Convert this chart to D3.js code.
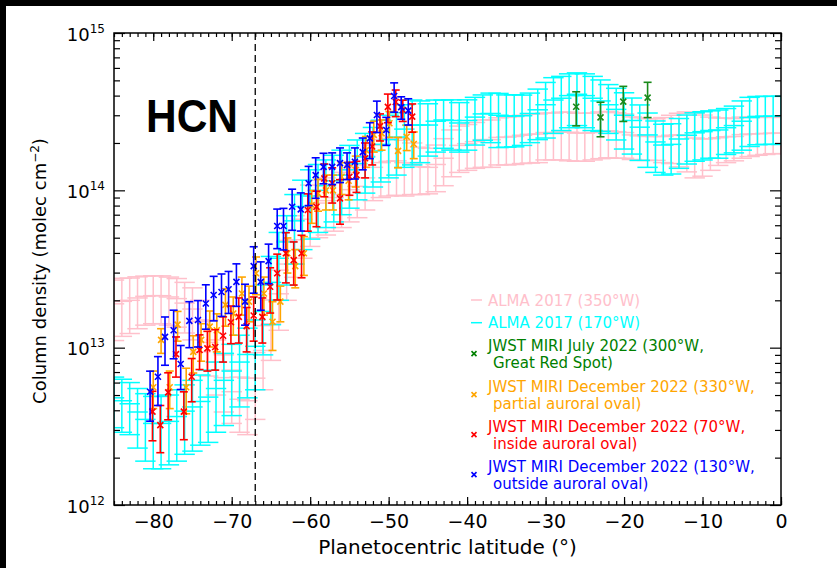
<!DOCTYPE html>
<html>
<head>
<meta charset="utf-8">
<script src="https://cdn.jsdelivr.net/npm/d3@7"></script>
<style>
  body { margin: 0; background: #fff; }
  svg { display: block; font-family: "DejaVu Sans", sans-serif; }
</style>
</head>
<body>
<svg id="chart" width="837" height="568"></svg>
<script>
// ALMA 2017 latitude grid (deg)
const almaLat = [-85,-84,-83,-82,-81,-80,-79,-78,-77,-76,-75,-74,-73,-72,-71,-70,-69,-68,-67,-66,
  -65,-64,-63,-62,-61,-60,-59,-58,-57,-56,-55,-54,-53,-52,-51,-50,-49,-48,-47,-46,
  -45,-44,-43,-42,-41,-40,-39,-38,-37,-36,-35,-34,-33,-32,-31,-30,-29,-28,-27,-26,
  -25,-24,-23,-22,-21,-20,-19,-18,-17,-16,-15,-14,-13,-12,-11,-10,-9,-8,-7,-6,
  -5,-4,-3,-2,-1,0];

// ALMA 2017 (350°W)
const pinkVal = [1.9e13,1.97e13,2.0e13,2.07e13,2.12e13,2.14e13,2.14e13,2.1e13,2.05e13,1.92e13,
  1.76e13,1.47e13,1.08e13,8.1e12,6.45e12,5.25e12,4.7e12,4.6e12,6.4e12,9.6e12,
  1.42e13,2.2e13,3.4e13,4.85e13,6.55e13,7.6e13,8.3e13,8.6e13,9.0e13,9.4e13,
  1.01e14,1.06e14,1.2e14,1.4e14,1.5e14,1.53e14,1.54e14,1.5e14,1.47e14,1.41e14,
  1.4e14,1.46e14,1.6e14,1.82e14,1.93e14,1.98e14,2.04e14,2.1e14,2.1e14,2.17e14,
  2.18e14,2.2e14,2.24e14,2.27e14,2.28e14,2.33e14,2.33e14,2.35e14,2.34e14,2.31e14,
  2.31e14,2.33e14,2.37e14,2.39e14,2.36e14,2.33e14,2.25e14,2.22e14,2.2e14,2.2e14,
  2.2e14,2.24e14,2.25e14,2.23e14,2.15e14,2.12e14,2.13e14,2.16e14,2.19e14,2.2e14,
  2.26e14,2.28e14,2.29e14,2.3e14,2.31e14,2.31e14];
const pinkErr = [7.9e12,7.9e12,7.7e12,7.5e12,7.3e12,7.2e12,7.2e12,7.1e12,7.0e12,6.8e12,
  6.4e12,5.3e12,4.2e12,3.1e12,2.55e12,1.95e12,1.8e12,1.8e12,2.9e12,4.2e12,
  5.9e12,9.1e12,1.4e13,2.05e13,2.85e13,3.2e13,3.3e13,3.4e13,3.5e13,3.6e13,
  3.8e13,3.9e13,4.5e13,5.4e13,6.0e13,6.1e13,6.1e13,5.8e13,5.3e13,4.7e13,
  4.5e13,4.8e13,5.3e13,6.0e13,6.3e13,6.4e13,6.6e13,7.0e13,7.0e13,7.2e13,
  7.3e13,7.4e13,7.6e13,7.8e13,7.8e13,7.7e13,7.7e13,7.9e13,8.0e13,7.8e13,
  7.8e13,7.7e13,7.8e13,7.8e13,7.6e13,7.3e13,6.8e13,6.7e13,6.5e13,6.5e13,
  7.0e13,7.6e13,8.4e13,9.2e13,9.5e13,8.9e13,7.9e13,7.2e13,6.9e13,6.6e13,
  6.6e13,6.4e13,6.2e13,6.1e13,6.0e13,6.0e13];

// ALMA 2017 (170°W)
const cyanVal = [4.8e12,4.6e12,4.4e12,3.9e12,3.5e12,3.3e12,3.3e12,3.4e12,3.65e12,3.95e12,
  4.2e12,4.55e12,4.85e12,5.5e12,6.2e12,7.1e12,8.1e12,9.05e12,1.02e13,1.7e13,
  2.6e13,3.7e13,4.7e13,6.4e13,7.9e13,9.2e13,1.0e14,1.07e14,1.15e14,1.25e14,
  1.35e14,1.48e14,1.63e14,1.78e14,1.96e14,2.1e14,2.18e14,2.45e14,2.6e14,2.6e14,
  2.6e14,2.75e14,2.8e14,2.78e14,2.68e14,2.78e14,2.92e14,3.06e14,3.08e14,3.0e14,
  2.96e14,2.97e14,2.98e14,3.08e14,3.25e14,3.5e14,3.75e14,3.85e14,4.0e14,4.08e14,
  4.0e14,3.85e14,3.7e14,3.5e14,3.27e14,3.0e14,2.78e14,2.52e14,2.25e14,2.03e14,
  1.94e14,1.96e14,2.12e14,2.24e14,2.32e14,2.36e14,2.4e14,2.42e14,2.5e14,2.58e14,
  2.75e14,2.9e14,2.95e14,2.96e14,2.96e14,2.96e14];
const cyanErr = [1.7e12,1.7e12,1.6e12,1.6e12,1.6e12,1.6e12,1.6e12,1.6e12,1.75e12,1.85e12,
  2.0e12,2.15e12,2.35e12,2.6e12,3.0e12,3.4e12,3.9e12,4.25e12,4.8e12,8e12,
  1.2e13,1.7e13,2.2e13,3.0e13,3.7e13,4.3e13,4.6e13,4.9e13,5.2e13,5.5e13,
  5.8e13,6.1e13,6.7e13,7.3e13,8.3e13,9.0e13,9.3e13,1.05e14,1.15e14,1.1e14,
  9.5e13,1.0e14,9.5e13,9.8e13,9.3e13,9.8e13,9.8e13,9.8e13,1.07e14,1.13e14,
  1.08e14,1.08e14,1.05e14,1.07e14,1.15e14,1.35e14,1.45e14,1.45e14,1.5e14,1.5e14,
  1.5e14,1.45e14,1.33e14,1.2e14,1.18e14,1.17e14,1.08e14,9.7e13,8.5e13,7.3e13,
  6.9e13,6.9e13,7.4e13,7.7e13,7.9e13,8.0e13,8.0e13,8.2e13,8.1e13,8.5e13,
  9.5e13,1.0e14,1.0e14,1.0e14,1.0e14,1.0e14];

// JWST MIRI points: [latitude, column density, error]
const jwstJuly = [[-26.1,3.40e14,8.3e13],[-23.0,2.91e14,7.2e13],[-20.1,3.66e14,9.2e13],[-17.0,3.88e14,9.8e13]];

const jwstOrange = [[-80.0,5.6e12,1.5e12],[-79.0,1.12e13,2.0e12],[-77.9,5.6e12,1.5e12],[-76.9,1.4e13,3.0e12],
  [-75.8,5.6e12,1.8e12],[-74.9,9.4e12,2.5e12],[-73.9,1.12e13,3.0e12],[-72.8,1.36e13,3.5e12],
  [-71.9,1.29e13,3.5e12],[-70.8,1.87e13,5.0e12],[-69.8,1.65e13,4.5e12],[-68.7,2.21e13,6.0e12],
  [-67.8,1.96e13,5.0e12],[-66.9,2.97e13,8.0e12],[-65.9,2.21e13,6.0e12],[-64.8,1.46e13,5.0e12],
  [-63.8,1.96e13,5.0e12],[-62.9,3.98e13,1.0e13],[-61.9,3.3e13,9.0e12],[-60.8,3.98e13,1.1e13],
  [-59.8,8.07e13,1.9e13],[-59.0,9.57e13,2.2e13],[-58.0,1.0e14,2.5e13],[-57.1,1.0e14,2.5e13],
  [-56.0,1.22e14,2.8e13],[-55.1,1.15e14,2.8e13],[-54.2,1.35e14,3.0e13],[-52.9,1.8e14,4.0e13],
  [-51.9,2.25e14,5.0e13],[-50.9,2.3e14,5.0e13],[-49.9,2.67e14,5.0e13],[-48.8,1.78e14,3.9e13],
  [-47.7,2.19e14,4.0e13],[-46.8,1.97e14,3.8e13]];

const jwstRed = [[-80.1,3.92e12,1.36e12],[-79.1,3.22e12,1.07e12],[-78.1,5.2e12,1.72e12],[-77.1,9.1e12,2.6e12],
  [-76.1,3.92e12,1.32e12],[-75.1,6.53e12,2.0e12],[-74.1,9.66e12,2.4e12],[-73.1,9.9e12,2.8e12],
  [-72.1,1.01e13,2.9e12],[-71.1,1.19e13,3.8e12],[-70.1,1.45e13,3.9e12],[-69.1,1.57e13,5.0e12],
  [-68.1,1.37e13,4.3e12],[-67.2,1.6e13,5.0e12],[-66.1,1.57e13,5.0e12],[-65.1,2.44e13,7.8e12],
  [-64.2,2.97e13,9.6e12],[-63.1,3.98e13,1.4e13],[-62.1,3.6e13,1.1e13],[-61.1,3.98e13,1.2e13],
  [-60.3,7.5e13,2.0e13],[-59.2,7.87e13,2.0e13],[-58.2,1.19e14,2.8e13],[-57.2,1.11e14,2.8e13],
  [-56.2,8.89e13,2.8e13],[-55.0,1.22e14,2.9e13],[-54.1,1.25e14,2.8e13],[-53.0,1.6e14,4.0e13],
  [-52.1,1.9e14,4.5e13],[-51.1,2.56e14,5.0e13],[-50.1,3.39e14,7.0e13],[-49.1,3.64e14,7.0e13],
  [-48.2,3.24e14,5.0e13],[-47.0,2.94e14,6.0e13]];

const jwstBlue = [[-80.4,5.25e12,1.84e12],[-79.4,6.53e12,2.24e12],[-78.5,1.17e13,3.97e12],[-77.4,1.29e13,4.4e12],
  [-76.5,7.87e12,2.45e12],[-75.4,1.48e13,4.8e12],[-74.3,1.5e13,4.9e12],[-73.3,1.91e13,6.0e12],
  [-72.3,2.16e13,6.8e12],[-71.3,2.26e13,6.8e12],[-70.4,2.35e13,7.0e12],[-69.4,2.62e13,7.9e12],
  [-68.3,1.96e13,5.7e12],[-67.2,3.3e13,1.08e13],[-66.3,2.62e13,8.9e12],[-65.3,3.55e13,1.0e13],
  [-64.2,5.93e13,1.67e13],[-63.4,5.93e13,1.75e13],[-62.3,7.87e13,2.3e13],[-61.2,7.57e13,2.06e13],
  [-60.2,1.11e14,3.1e13],[-59.3,1.25e14,3.6e13],[-58.3,1.41e14,3.1e13],[-57.2,1.41e14,3.2e13],
  [-56.2,1.49e14,3.7e13],[-55.3,1.45e14,2.8e13],[-54.3,1.52e14,3.4e13],[-53.3,1.75e14,4.0e13],
  [-52.4,2.14e14,5.5e13],[-51.5,3.01e14,6.8e13],[-50.3,2.42e14,4.9e13],[-49.3,3.98e14,8.4e13],
  [-48.4,3.38e14,5.5e13],[-47.5,3.21e14,6.1e13]];

const xTicks = [-80,-70,-60,-50,-40,-30,-20,-10,0];
const yTicks = [1e12,1e13,1e14,1e15];
const auroraLat = -67;

const legendItems = [
  { kind: "line", color: "#ffc0cb", lines: ["ALMA 2017 (350°W)"] },
  { kind: "line", color: "#00ffff", lines: ["ALMA 2017 (170°W)"] },
  { kind: "x", color: "#008000", lines: ["JWST MIRI July 2022 (300°W,", "Great Red Spot)"] },
  { kind: "x", color: "#ffa500", lines: ["JWST MIRI December 2022 (330°W,", "partial auroral oval)"] },
  { kind: "x", color: "#ff0000", lines: ["JWST MIRI December 2022 (70°W,", "inside auroral oval)"] },
  { kind: "x", color: "#0000ff", lines: ["JWST MIRI December 2022 (130°W,", "outside auroral oval)"] }
];

const svg = d3.select("#chart");
const W = 837, H = 568;
const pL = 114, pR = 781, pT = 33, pB = 505;

svg.append("rect").attr("width", W).attr("height", H).attr("fill", "#fff");
// black page border at top and left
svg.append("rect").attr("x", 0).attr("y", 0).attr("width", W).attr("height", 6).attr("fill", "#000");
svg.append("rect").attr("x", 0).attr("y", 0).attr("width", 6).attr("height", H).attr("fill", "#000");

const x = d3.scaleLinear().domain([-85, 0]).range([pL, pR]);
const y = d3.scaleLog().domain([1e12, 1e15]).range([pB, pT]);

svg.append("clipPath").attr("id", "plot-clip")
  .append("rect").attr("x", pL).attr("y", pT).attr("width", pR - pL).attr("height", pB - pT);

const plot = svg.append("g").attr("clip-path", "url(#plot-clip)");

// ALMA error bars: vertical bar, wide caps and x-extent line through the value
function drawAlma(vals, errs, color) {
  const g = plot.append("g").attr("stroke", color).attr("stroke-width", 1.5).attr("fill", "none");
  const rows = almaLat.map((lat, i) => ({ lat, v: vals[i], e: errs[i] }));
  const dx = 1.3;
  rows.forEach(d => {
    const x0 = x(d.lat - dx), x1 = x(d.lat + dx), xc = x(d.lat);
    const yHi = y(d.v + d.e), yLo = y(d.v - d.e), yc = y(d.v);
    g.append("line").attr("x1", xc).attr("x2", xc).attr("y1", yLo).attr("y2", yHi);
    [yHi, yc, yLo].forEach(yy => {
      g.append("line").attr("x1", x0).attr("x2", x1).attr("y1", yy).attr("y2", yy);
    });
  });
}

function drawJwst(rows, color) {
  const g = plot.append("g").attr("stroke", color).attr("stroke-width", 1.6).attr("fill", "none");
  const cap = 4, m = 3;
  rows.forEach(([lat, v, e]) => {
    const xc = x(lat), yc = y(v), yHi = y(v + e), yLo = y(v - e);
    g.append("line").attr("x1", xc).attr("x2", xc).attr("y1", yLo).attr("y2", yHi);
    g.append("line").attr("x1", xc - cap).attr("x2", xc + cap).attr("y1", yHi).attr("y2", yHi);
    g.append("line").attr("x1", xc - cap).attr("x2", xc + cap).attr("y1", yLo).attr("y2", yLo);
    g.append("path").attr("d", `M${xc - m},${yc - m}L${xc + m},${yc + m}M${xc - m},${yc + m}L${xc + m},${yc - m}`);
  });
}

drawAlma(pinkVal, pinkErr, "#ffc0cb");
drawAlma(cyanVal, cyanErr, "#00ffff");
drawJwst(jwstJuly, "#1a8a1a");
drawJwst(jwstOrange, "#ffa500");
drawJwst(jwstRed, "#ff0000");
drawJwst(jwstBlue, "#0000ff");

// dashed auroral boundary
svg.append("line")
  .attr("x1", x(auroraLat)).attr("x2", x(auroraLat))
  .attr("y1", pT).attr("y2", pB)
  .attr("stroke", "#000").attr("stroke-width", 1.3)
  .attr("stroke-dasharray", "7,4");

// axes with inward ticks
const minorX = d3.range(-85, 1, 1);
const minorY = y.ticks().filter(v => !yTicks.includes(v));

function styleAxis(g) {
  g.select(".domain").remove();
  g.selectAll(".tick line").attr("stroke", "#000").attr("stroke-width", 1.2);
}

svg.append("g").attr("transform", `translate(0,${pB})`)
  .call(d3.axisBottom(x).tickValues(minorX).tickSizeInner(-4).tickSizeOuter(0).tickFormat(""))
  .call(styleAxis);
svg.append("g").attr("transform", `translate(0,${pB})`)
  .call(d3.axisBottom(x).tickValues(xTicks).tickSizeInner(-8).tickSizeOuter(0).tickPadding(10))
  .call(styleAxis)
  .call(g => g.selectAll("text").attr("font-size", 19).attr("fill", "#000").attr("font-family", "DejaVu Sans"));

svg.append("g").attr("transform", `translate(0,${pT})`)
  .call(d3.axisTop(x).tickValues(minorX).tickSizeInner(-4).tickSizeOuter(0).tickFormat(""))
  .call(styleAxis);
svg.append("g").attr("transform", `translate(0,${pT})`)
  .call(d3.axisTop(x).tickValues(xTicks).tickSizeInner(-8).tickSizeOuter(0).tickFormat(""))
  .call(styleAxis);

svg.append("g").attr("transform", `translate(${pL},0)`)
  .call(d3.axisLeft(y).tickValues(minorY).tickSizeInner(-6).tickSizeOuter(0).tickFormat(""))
  .call(styleAxis);
svg.append("g").attr("transform", `translate(${pL},0)`)
  .call(d3.axisLeft(y).tickValues(yTicks).tickSizeInner(-11).tickSizeOuter(0).tickPadding(9))
  .call(styleAxis)
  .call(g => g.selectAll(".tick text").text(null).attr("font-size", 18).attr("fill", "#000")
    .attr("font-family", "DejaVu Sans").attr("dy", "0.4em")
    .each(function(d) {
      const t = d3.select(this);
      t.append("tspan").text("10");
      t.append("tspan").attr("font-size", 12).attr("dy", -8).text(Math.round(Math.log10(d)));
    }));

svg.append("g").attr("transform", `translate(${pR},0)`)
  .call(d3.axisRight(y).tickValues(minorY).tickSizeInner(-6).tickSizeOuter(0).tickFormat(""))
  .call(styleAxis);
svg.append("g").attr("transform", `translate(${pR},0)`)
  .call(d3.axisRight(y).tickValues(yTicks).tickSizeInner(-11).tickSizeOuter(0).tickFormat(""))
  .call(styleAxis);

svg.append("rect")
  .attr("x", pL).attr("y", pT).attr("width", pR - pL).attr("height", pB - pT)
  .attr("fill", "none").attr("stroke", "#000").attr("stroke-width", 1.5);

// axis titles
svg.append("text")
  .attr("x", (pL + pR) / 2).attr("y", 554)
  .attr("text-anchor", "middle").attr("font-size", 20)
  .text("Planetocentric latitude (°)");

const yl = svg.append("text")
  .attr("transform", "translate(46,271) rotate(-90)")
  .attr("text-anchor", "middle").attr("font-size", 18);
yl.append("tspan").text("Column density (molec cm");
yl.append("tspan").attr("font-size", 12).attr("dy", -7).text("−2");
yl.append("tspan").attr("dy", 7).text(")");

// species label
svg.append("text")
  .attr("x", 146).attr("y", 132)
  .attr("font-family", "Liberation Sans, Arial, sans-serif")
  .attr("font-weight", "bold").attr("font-size", 47)
  .attr("textLength", 92).attr("lengthAdjust", "spacingAndGlyphs")
  .text("HCN");

// legend
const legendRows = [300, 322.7, 345, 386, 426, 466];
const lg = svg.append("g").attr("font-size", 15);
legendItems.forEach((item, i) => {
  const yc = legendRows[i];
  const nLines = item.lines.length;
  const ym = yc + (nLines - 1) * 17.3 / 2;
  if (item.kind === "line") {
    lg.append("line").attr("x1", 471).attr("x2", 482).attr("y1", ym).attr("y2", ym)
      .attr("stroke", item.color).attr("stroke-width", 1.5);
  } else {
    const m = 2.5;
    lg.append("path")
      .attr("d", `M${474 - m},${ym - m}L${474 + m},${ym + m}M${474 - m},${ym + m}L${474 + m},${ym - m}`)
      .attr("stroke", item.color).attr("stroke-width", 1.6);
  }
  item.lines.forEach((txt, j) => {
    lg.append("text")
      .attr("x", j === 0 ? 488 : 493)
      .attr("y", yc + j * 17.3 + 5.5)
      .attr("fill", item.color)
      .text(txt);
  });
});
</script>
</body>
</html>
